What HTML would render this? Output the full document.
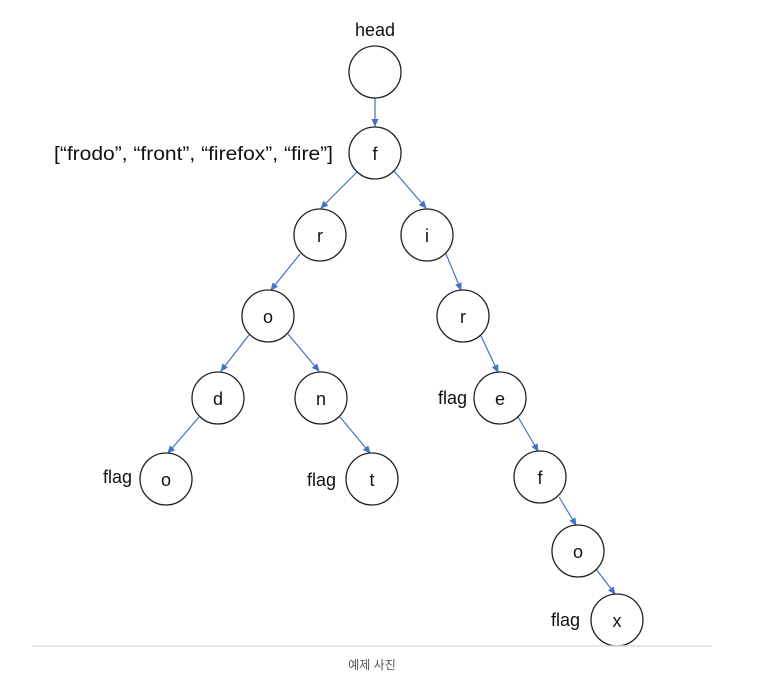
<!DOCTYPE html>
<html><head><meta charset="utf-8"><style>
html,body{margin:0;padding:0;background:#fff;width:771px;height:677px;overflow:hidden}
svg{display:block}
text{font-family:"Liberation Sans","Noto Sans CJK KR",sans-serif;fill:#111}
</style></head><body>
<svg width="771" height="677" viewBox="0 0 771 677" xmlns="http://www.w3.org/2000/svg">
<defs><marker id="a" markerWidth="8" markerHeight="8" refX="7" refY="4" orient="auto" markerUnits="userSpaceOnUse"><path d="M0,0.5 L8,4 L0,7.5z" fill="#4472c4"/></marker></defs>
<g stroke="#4472c4" stroke-width="1.2" marker-end="url(#a)" fill="none">
<line x1="375" y1="98" x2="375" y2="126"/>
<line x1="357" y1="172" x2="321" y2="208"/>
<line x1="394" y1="171" x2="426" y2="208"/>
<line x1="300" y1="254" x2="271" y2="290"/>
<line x1="446" y1="254" x2="461" y2="290"/>
<line x1="249" y1="335" x2="221" y2="371"/>
<line x1="288" y1="334" x2="319" y2="371"/>
<line x1="481" y1="336" x2="498" y2="372"/>
<line x1="199" y1="417" x2="168" y2="453"/>
<line x1="340" y1="417" x2="370" y2="453"/>
<line x1="518" y1="417" x2="538" y2="451"/>
<line x1="559" y1="497" x2="576" y2="525"/>
<line x1="596" y1="569" x2="615" y2="594"/>
</g>
<g fill="#fff" stroke="#222" stroke-width="1.3">
<circle cx="375" cy="72" r="26"/>
<circle cx="375" cy="153" r="26"/>
<circle cx="320" cy="235" r="26"/>
<circle cx="427" cy="235" r="26"/>
<circle cx="268" cy="316" r="26"/>
<circle cx="463" cy="316" r="26"/>
<circle cx="218" cy="398" r="26"/>
<circle cx="321" cy="398" r="26"/>
<circle cx="500" cy="398" r="26"/>
<circle cx="166" cy="479" r="26"/>
<circle cx="372" cy="479" r="26"/>
<circle cx="540" cy="477" r="26"/>
<circle cx="578" cy="551" r="26"/>
<circle cx="617" cy="620" r="26"/>
</g>
<g font-size="18" text-anchor="middle">
<text x="375" y="36">head</text>
<text x="375" y="160">f</text>
<text x="320" y="242">r</text>
<text x="427" y="242">i</text>
<text x="268" y="323">o</text>
<text x="463" y="323">r</text>
<text x="218" y="405">d</text>
<text x="321" y="405">n</text>
<text x="500" y="405">e</text>
<text x="166" y="486">o</text>
<text x="372" y="486">t</text>
<text x="540" y="484">f</text>
<text x="578" y="558">o</text>
<text x="617" y="627">x</text>
</g>
<g font-size="18" text-anchor="end">
<text x="132" y="483">flag</text>
<text x="336" y="486">flag</text>
<text x="467" y="404">flag</text>
<text x="580" y="626">flag</text>
</g>
<text x="54" y="160" font-size="19" textLength="279" lengthAdjust="spacingAndGlyphs">[“frodo”, “front”, “firefox”, “fire”]</text>
<line x1="32" y1="646" x2="712" y2="646" stroke="#ddd" stroke-width="1.5"/>
<text x="372" y="669" font-size="12" text-anchor="middle" style="fill:#555">예제 사진</text>
</svg>
</body></html>
